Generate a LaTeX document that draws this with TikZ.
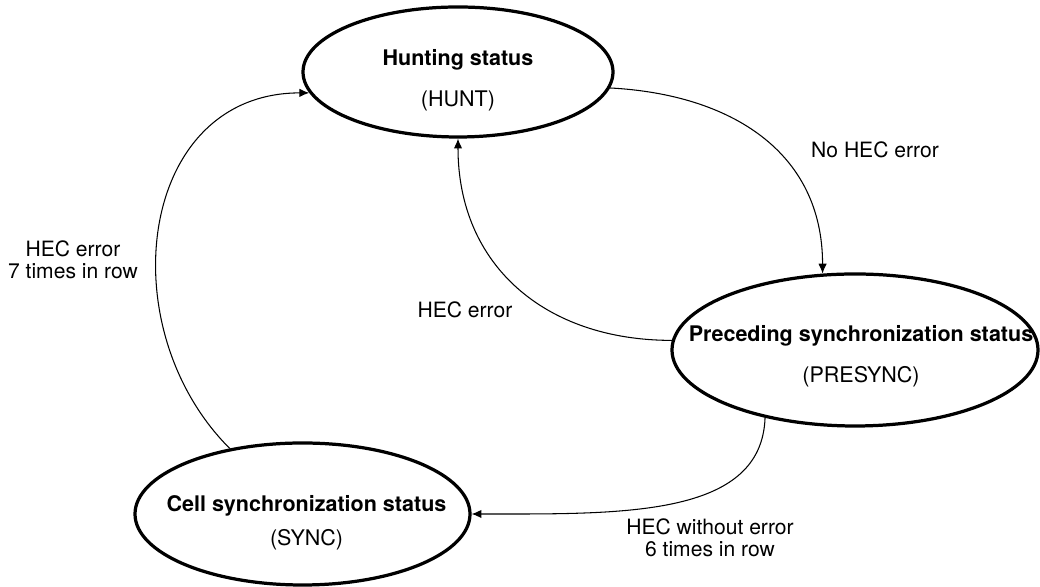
\documentclass[tikz,border=0pt]{standalone}
\usepackage{fontspec}
\setmainfont{TeX Gyre Heros}
\usepackage{tikz}
\usetikzlibrary{arrows.meta,positioning,shapes.geometric}

\begin{document}
\begin{tikzpicture}[>={Latex[length=7pt,width=6pt]},
  st/.style={ellipse,draw,line width=2.3pt,inner sep=0pt},
  sttxt/.style={align=center,font=\fontsize{15.3}{18}\selectfont},
  tr/.style={->,line width=0.75pt},
  lb/.style={align=center,font=\fontsize{15}{15.5}\selectfont}]
\useasboundingbox (0,0) rectangle (26,14.675);
% states
\node[st,minimum width=7.75cm,minimum height=3.25cm] (hunt) at (11.45,12.875) {};
\node[st,minimum width=9.15cm,minimum height=3.8cm] (presync) at (21.375,5.925) {};
\node[st,minimum width=8.375cm,minimum height=3.55cm] (sync) at (7.5625,1.825) {};
\node[sttxt] (hunttxt) at ([yshift=-0.2cm]hunt.center) {\textbf{Hunting status}\\[11pt](HUNT)};
\node[sttxt] (presynctxt) at ([xshift=0.15cm,yshift=-0.15cm]presync.center) {\textbf{Preceding synchronization status}\\[11pt](PRESYNC)};
\node[sttxt] (synctxt) at ([xshift=0.1cm,yshift=-0.22cm]sync.center) {\textbf{Cell synchronization status}\\[6pt](SYNC)};
% transitions
\draw[tr] (hunt.-6) to[out=-3,in=90,looseness=1.1] (presync.113);
\draw[tr] (presync.177) to[out=180,in=-90,looseness=1.1] (hunt.south);
\draw[tr] (presync.-143) to[out=-92,in=0,out distance=2.5cm,in distance=3.75cm] (sync.east);
\draw[tr] (sync.138) to[out=135,in=180,looseness=1.2] (hunt.188);
% labels
\node[lb] (l1) at (21.875,10.925) {No HEC error};
\node[lb] (l2) at (11.625,6.94) {HEC error};
\node[lb] (l3) at (1.825,8.175) {HEC error\\7 times in row};
\node[lb] (l4) at (17.75,1.225) {HEC without error\\6 times in row};
\end{tikzpicture}
\end{document}
